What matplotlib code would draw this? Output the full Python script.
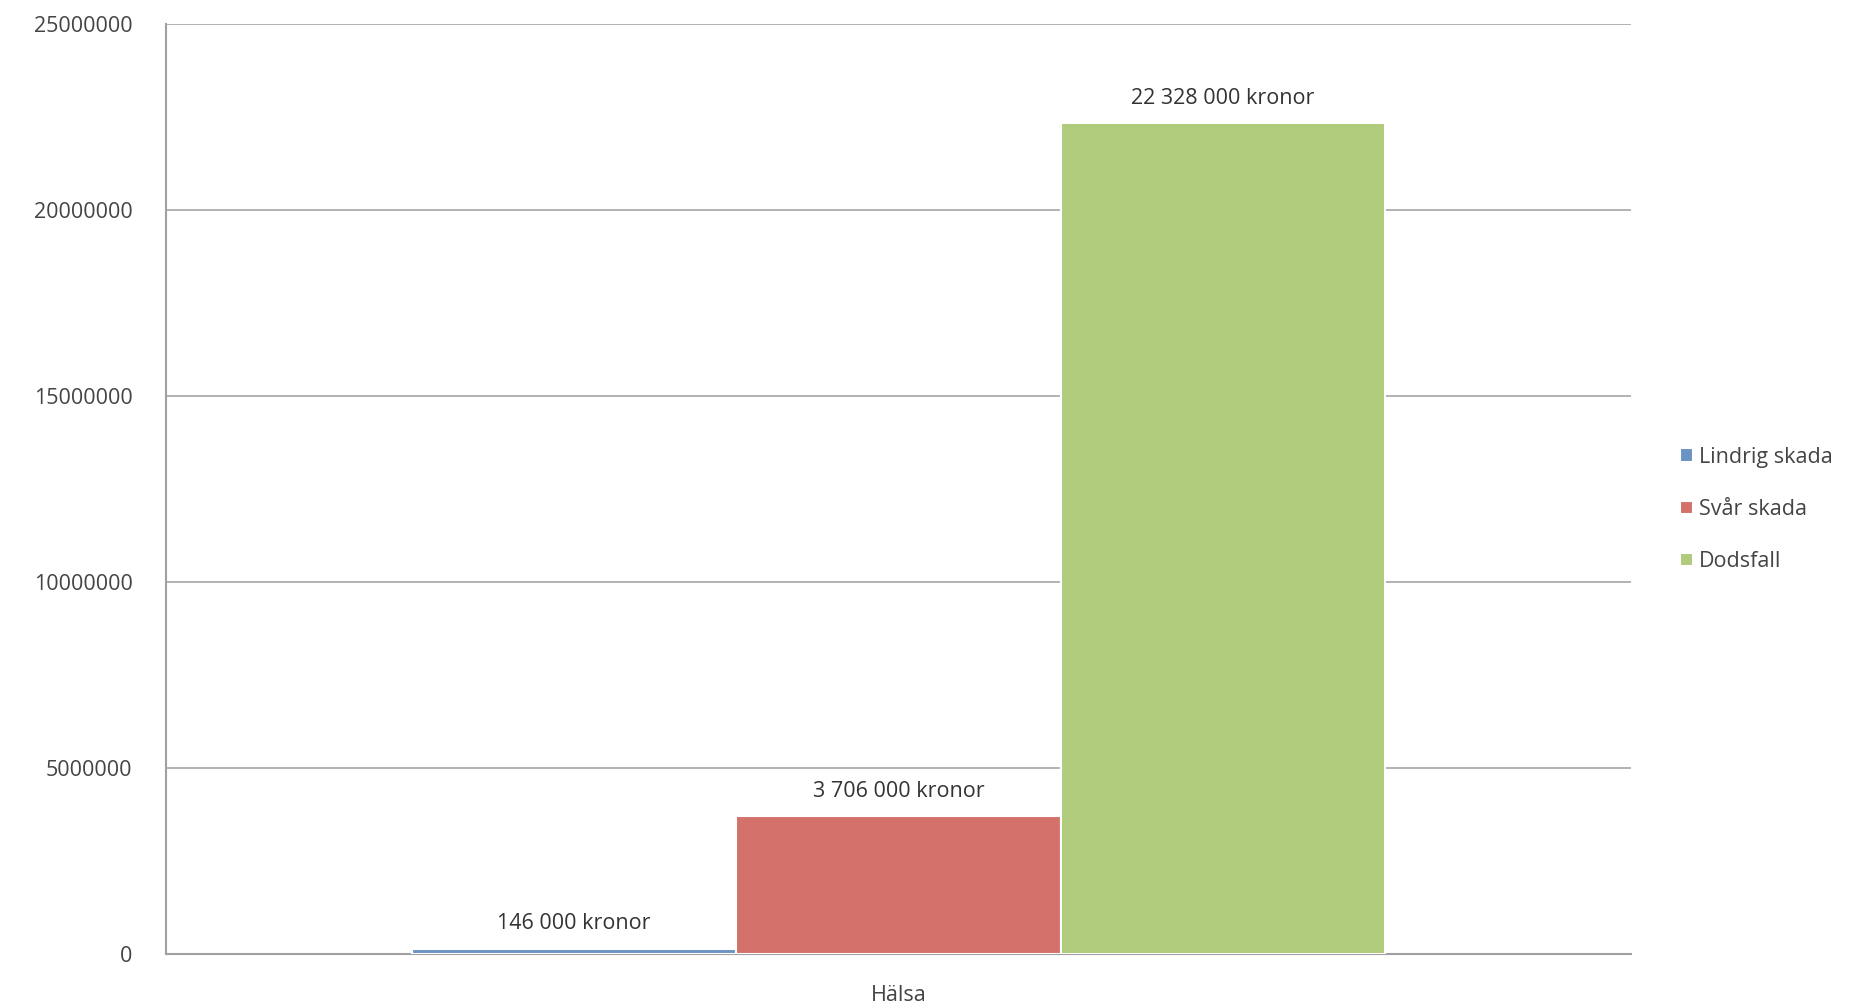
import numpy as np
import matplotlib
matplotlib.use("Agg")
import matplotlib.pyplot as plt

# data
kategori = ["Hälsa"]
serier = ["Lindrig skada", "Svår skada", "Dodsfall"]
varden = [146000, 3706000, 22328000]
etiketter = ["146 000 kronor", "3 706 000 kronor", "22 328 000 kronor"]
farger = ["#6b93c3", "#d4716b", "#b0cb7b"]

plt.rcParams["font.family"] = ["Open Sans", "DejaVu Sans"]

fig = plt.figure(figsize=(18.56, 10.06), dpi=100)
ax = fig.add_axes([0.0894, 0.0517, 0.7894, 0.9244])

sirka = 0.2215
x = np.arange(len(kategori))
for i, (namn, v, lab, c) in enumerate(zip(serier, varden, etiketter, farger)):
    pos = x + (i - 1) * sirka
    ax.bar(pos, [v], width=sirka, color=c, edgecolor="white", linewidth=1.5, label=namn, zorder=3)
    ax.text(pos[0], v + 380000, lab, ha="center", va="bottom", fontsize=15.5, color="#333333")

ax.set_xlim(-0.5, 0.5)
ax.set_ylim(0, 25000000)
ax.set_yticks(np.arange(0, 25000001, 5000000))
ax.set_yticklabels([str(int(t)) for t in np.arange(0, 25000001, 5000000)])
ax.set_xticks(x)
ax.set_xticklabels(kategori)
ax.tick_params(axis="both", labelsize=15.5, colors="#444444", length=0, pad=22)
ax.tick_params(axis="y", pad=24)

ax.yaxis.grid(True, color="#a6a6a6", linewidth=1.2, zorder=0)
for s in ["top", "right"]:
    ax.spines[s].set_visible(False)
ax.spines["left"].set_color("#a0a0a0")
ax.spines["bottom"].set_color("#a0a0a0")
ax.spines["left"].set_linewidth(1.5)
ax.spines["bottom"].set_linewidth(1.5)

ax.legend(loc="center left", bbox_to_anchor=(1.02, 0.478), frameon=False,
          fontsize=15.5, handlelength=0.6, handleheight=0.6, handletextpad=0.3,
          labelspacing=1.45, labelcolor="#444444")

fig.savefig("out.png", dpi=100)
